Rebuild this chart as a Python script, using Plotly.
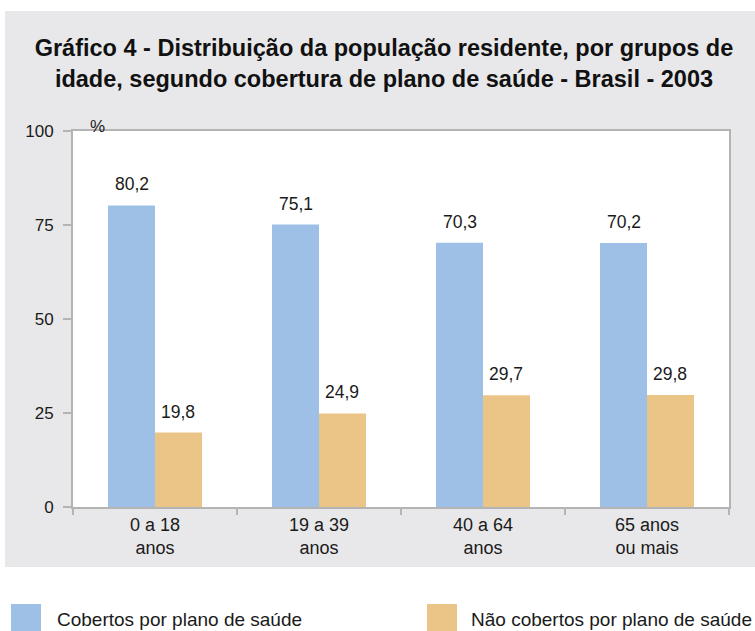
import plotly.graph_objects as go

categories = ["0 a 18<br>anos", "19 a 39<br>anos", "40 a 64<br>anos", "65 anos<br>ou mais"]
cobertos = [80.2, 75.1, 70.3, 70.2]
nao_cobertos = [19.8, 24.9, 29.7, 29.8]
series_names = ["Cobertos por plano de saúde", "Não cobertos por plano de saúde"]
colors = ["#9ec0e6", "#ebc488"]
y_ticks = [0, 25, 50, 75, 100]

W, H = 755, 631
L, R, T, B = 73, 26, 131, 124
pw, ph = W - L - R, H - T - B

def px(x):
    return (x - L) / pw

def py(y):
    return (H - B - y) / ph

FONT = "Liberation Sans, Arial, Helvetica, sans-serif"

fig = go.Figure()
for name, vals, col in zip(series_names, [cobertos, nao_cobertos], colors):
    fig.add_trace(go.Bar(x=categories, y=vals, name=name, marker_color=col,
                         marker_line_width=0, showlegend=False, hoverinfo="skip"))

bar_px = pw / len(categories) * (1 - 0.427) / 2
annotations = []
for i, vals in enumerate([cobertos, nao_cobertos]):
    shift = (-0.5 if i == 0 else 0.5) * bar_px
    for c, v in zip(categories, vals):
        annotations.append(dict(x=c, y=v, xref="x", yref="y", text=f"{v:.1f}".replace(".", ","),
                                showarrow=False, xshift=shift, yshift=21, yanchor="middle",
                                font=dict(size=17.5, color="#1a1a1a", family=FONT)))

annotations.append(dict(x=px(88), y=py(115), xref="paper", yref="paper", text="%",
                        showarrow=False, font=dict(size=17, color="#1a1a1a", family=FONT)))

# manual legend
shapes = [
    dict(type="rect", xref="paper", yref="paper", x0=px(5), x1=px(760), y0=py(567), y1=py(11),
         fillcolor="#e8e8ea", line_width=0, layer="below"),
    dict(type="rect", xref="paper", yref="paper", x0=0, x1=1, y0=0, y1=1,
         fillcolor="white", line_width=0, layer="below"),
]
legend_x = [(11, 41, 55), (427, 457, 469)]
for (x0, x1, tx), name, col in zip(legend_x, series_names, colors):
    shapes.append(dict(type="rect", xref="paper", yref="paper", x0=px(x0), x1=px(x1),
                       y0=py(635), y1=py(604), fillcolor=col, line_width=0))
    annotations.append(dict(x=px(tx), y=py(619), xref="paper", yref="paper", text=name,
                            showarrow=False, xanchor="left", yanchor="middle",
                            font=dict(size=19, color="#1a1a1a", family=FONT)))

fig.update_layout(
    width=W, height=H,
    margin=dict(l=L, r=R, t=T, b=B, pad=0),
    paper_bgcolor="white", plot_bgcolor="white",
    barmode="group", bargap=0.427, bargroupgap=0,
    separators=",.",
    title=dict(text="Gráfico 4 - Distribuição da população residente, por grupos de<br>idade, segundo cobertura de plano de saúde - Brasil - 2003",
               x=384 / W, xanchor="center", xref="container",
               y=1 - 56 / H, yanchor="middle", yref="container",
               font=dict(size=23.5, color="#111111", family=FONT, weight="bold")),
    shapes=shapes,
    annotations=annotations,
    font=dict(family=FONT, color="#1a1a1a"),
)
fig.update_xaxes(showline=True, linecolor="#b4b4b4", linewidth=2, mirror=True,
                 ticks="outside", tickson="boundaries", ticklen=6, tickcolor="#b4b4b4", tickwidth=1.5,
                 tickfont=dict(size=18, family=FONT, color="#1a1a1a"), showgrid=False)
fig.update_yaxes(range=[0, 100], tickvals=y_ticks, showline=True, linecolor="#b4b4b4", linewidth=2,
                 mirror=True, ticks="outside", ticklen=8, tickcolor="#b4b4b4", tickwidth=1.5,
                 tickfont=dict(size=17, family=FONT, color="#1a1a1a"), showgrid=False, zeroline=False,
                 ticklabelstandoff=6)

fig.write_html("out.html", config={"displayModeBar": False},
               post_script="document.body.style.margin='0';")
